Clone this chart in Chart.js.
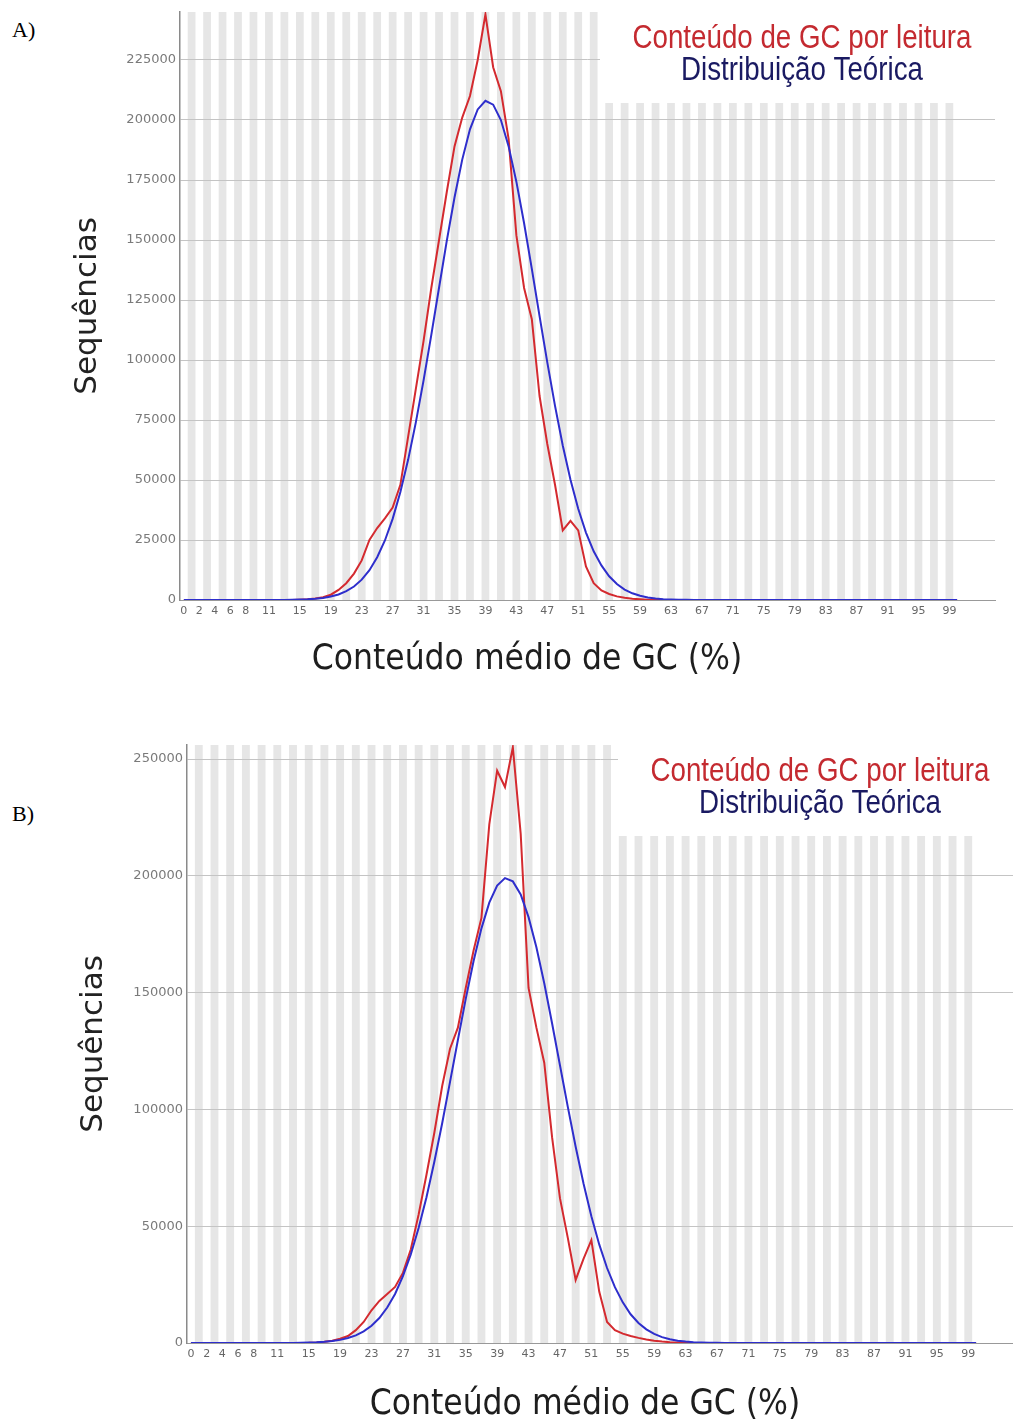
<!DOCTYPE html>
<html>
<head>
<meta charset="utf-8">
<script src="https://cdn.jsdelivr.net/npm/chart.js@4/dist/chart.umd.min.js"></script>
<style>
  body { margin: 0; background: #fff; }
  #page { position: relative; width: 1013px; height: 1422px; overflow: hidden; }
  canvas { position: absolute; left: 0; }
  .tag { position: absolute; left: 12px; font: 22px "Liberation Serif", serif; color: #000; }
</style>
</head>
<body>
<div id="page">
  <div class="tag" style="top:17px">A)</div>
  <canvas id="chartA" width="1013" height="700" style="top:0"></canvas>
  <div class="tag" style="top:801px">B)</div>
  <canvas id="chartB" width="1013" height="722" style="top:700px"></canvas>
</div>
<script>
// Conteúdo de GC (%) - dois gráficos de distribuição

const gcPercent = [0,1,2,3,4,5,6,7,8,9,10,11,12,13,14,15,16,17,18,19,20,21,22,23,24,25,26,27,28,29,30,31,32,33,34,35,36,37,38,39,40,41,42,43,44,45,46,47,48,49,50,51,52,53,54,55,56,57,58,59,60,61,62,63,64,65,66,67,68,69,70,71,72,73,74,75,76,77,78,79,80,81,82,83,84,85,86,87,88,89,90,91,92,93,94,95,96,97,98,99,100];
const xTickLabels = [0,2,4,6,8,11,15,19,23,27,31,35,39,43,47,51,55,59,63,67,71,75,79,83,87,91,95,99];

// A) leituras e distribuição teórica
const readA = [0,0,0,0,0,0,0,0,0,0,0,0,0,20,50,150,300,600,1200,2200,4200,7000,11000,16500,25000,30000,34000,38500,48000,68000,88000,108000,130000,150000,170000,189000,201000,210000,225000,244000,222000,212000,192000,152000,130000,117000,85000,65000,48000,29000,33000,29000,14000,7000,4000,2500,1500,900,500,300,150,80,40,20,0,0,0,0,0,0,0,0,0,0,0,0,0,0,0,0,0,0,0,0,0,0,0,0,0,0,0,0,0,0,0,0,0,0,0,0,0];
const theoA = [0,0,0,0,0,0,0,0,0,0,0,0,0,50,90,160,290,510,860,1430,2300,3660,5620,8470,12400,17800,24800,33800,45000,58400,74000,91500,110500,130100,149600,167700,183500,196100,204400,208000,206400,200000,189000,174300,157000,138000,118300,99000,80900,64400,50100,38000,28100,20300,14400,9900,6640,4350,2790,1740,1060,630,360,208,110,60,30,0,0,0,0,0,0,0,0,0,0,0,0,0,0,0,0,0,0,0,0,0,0,0,0,0,0,0,0,0,0,0,0,0,0];
const yTicksA = [0,25000,50000,75000,100000,125000,150000,175000,200000,225000];

// B) leituras e distribuição teórica
const readB = [0,0,0,0,0,0,0,0,0,0,0,0,0,0,50,100,250,500,1000,1800,3000,5500,9000,14000,18000,21000,24000,30000,40000,55000,72000,90000,110000,126000,135000,152000,168000,182000,222000,245000,238000,255000,218000,152000,135000,120000,88000,62000,45000,27000,36000,44000,22000,9000,5500,4000,3000,2200,1500,1000,600,350,200,100,50,0,0,0,0,0,0,0,0,0,0,0,0,0,0,0,0,0,0,0,0,0,0,0,0,0,0,0,0,0,0,0,0,0,0,0,0];
const theoB = [0,0,0,0,0,0,0,0,0,0,0,0,0,50,96,170,290,500,820,1340,2120,3280,4970,7380,10700,15200,21000,28600,37900,49200,62400,77600,94100,111800,129700,147300,163500,177500,188500,195800,199000,197600,192000,182300,169400,154000,136800,118900,101100,84000,68300,54300,42200,32100,23900,17400,12300,8600,5850,3890,2530,1610,1000,610,360,210,120,70,0,0,0,0,0,0,0,0,0,0,0,0,0,0,0,0,0,0,0,0,0,0,0,0,0,0,0,0,0,0,0,0,0];
const yTicksB = [0,50000,100000,150000,200000,250000];

const seriesLabels = ["Conteúdo de GC por leitura", "Distribuição Teórica"];
const xTitle = "Conteúdo médio de GC (%)";

// faixas cinzentas alternadas por categoria
const stripes = {
  id: "stripes",
  beforeDraw(chart, args, opts) {
    const { ctx, chartArea, scales: { x } } = chart;
    ctx.save();
    ctx.fillStyle = opts.color;
    gcPercent.forEach(g => {
      if (g % 2 === 1) {
        const x0 = x.getPixelForValue(g - 0.5);
        const x1 = x.getPixelForValue(g + 0.5);
        ctx.fillRect(x0, chartArea.top, x1 - x0, chartArea.bottom - chartArea.top);
      }
    });
    ctx.restore();
  }
};

// texto estreito (a fonte original é condensada)
function narrowText(ctx, text, x, y, squeeze) {
  ctx.save();
  ctx.translate(x, y);
  ctx.scale(squeeze, 1);
  ctx.fillText(text, 0, 0);
  ctx.restore();
}

// caixa de legenda branca no canto superior direito
const legendBox = {
  id: "legendBox",
  beforeDatasetsDraw(chart, args, opts) {
    const { ctx, chartArea: { top, right } } = chart;
    ctx.save();
    ctx.fillStyle = "#fff";
    ctx.fillRect(right - opts.width, 0, opts.width + 30, top + opts.height);
    ctx.font = opts.font;
    ctx.textAlign = "center";
    ctx.textBaseline = "middle";
    chart.data.datasets.forEach((ds, i) => {
      ctx.fillStyle = opts.colors[i];
      narrowText(ctx, ds.label, right - opts.cx, top + opts.rows[i], opts.squeeze);
    });
    ctx.restore();
  }
};

// título do eixo x, centrado como no original
const xAxisTitle = {
  id: "xAxisTitle",
  afterDraw(chart, args, opts) {
    const { ctx, chartArea: { bottom } } = chart;
    ctx.save();
    ctx.font = opts.font;
    ctx.fillStyle = opts.color;
    ctx.textAlign = "center";
    ctx.textBaseline = "middle";
    narrowText(ctx, opts.text, opts.cx, bottom + opts.dy, opts.squeeze);
    ctx.restore();
  }
};

function makeChart(id, read, theo, yTicks, o) {
  return new Chart(document.getElementById(id), {
    type: "line",
    data: {
      datasets: [
        {
          label: seriesLabels[0],
          data: gcPercent.map((g, i) => ({ x: g, y: read[i] })),
          borderColor: "#d42a2f",
          borderWidth: 2,
          pointRadius: 0,
          tension: 0,
          order: 2
        },
        {
          label: seriesLabels[1],
          data: gcPercent.map((g, i) => ({ x: g, y: theo[i] })),
          borderColor: "#2e2ecc",
          borderWidth: 2,
          pointRadius: 0,
          tension: 0,
          order: 1
        }
      ]
    },
    options: {
      responsive: false,
      animation: false,
      layout: { padding: o.padding },
      plugins: {
        legend: { display: false },
        tooltip: { enabled: false },
        stripes: { color: "#e6e6e6" },
        legendBox: {
          width: 395, height: 91, cx: 193, rows: [27, 59], squeeze: 0.84,
          font: "33px 'Liberation Sans', sans-serif",
          colors: ["#c42a30", "#1a1a62"]
        },
        xAxisTitle: {
          text: xTitle, cx: o.xTitleX, dy: o.xTitleDy, squeeze: 0.9,
          font: "35px 'DejaVu Sans', sans-serif", color: "#1e1e1e"
        }
      },
      scales: {
        x: {
          type: "linear",
          min: -0.5,
          max: o.xMax,
          grid: { display: false, drawTicks: false },
          border: { display: true, color: "#999" },
          afterBuildTicks: s => { s.ticks = xTickLabels.map(v => ({ value: v })); },
          afterFit: s => { s.height = o.xHeight; },
          ticks: {
            autoSkip: false, maxRotation: 0, padding: 5, color: "#666",
            font: { family: "DejaVu Sans", size: 11 },
            callback: v => String(v)
          },
          title: { display: false }
        },
        y: {
          min: 0,
          max: o.yMax,
          afterBuildTicks: s => { s.ticks = yTicks.map(v => ({ value: v })); },
          afterFit: s => { s.width = o.yWidth; },
          grid: { color: "#c4c4c4", drawTicks: false },
          border: { color: "#8a8a8a", width: 1.5 },
          ticks: {
            padding: 4, color: "#7a7a7a",
            font: { family: "DejaVu Sans", size: 13 },
            callback: v => String(v)
          },
          title: {
            display: true, text: "Sequências", color: "#222",
            font: { family: "DejaVu Sans", size: 31 },
            padding: 0
          }
        }
      }
    },
    plugins: [stripes, legendBox, xAxisTitle]
  });
}

makeChart("chartA", readA, theoA, yTicksA, {
  padding: { left: 69, top: 12, right: 18, bottom: 0 },
  yWidth: 111, xHeight: 100, xMax: 104.9, yMax: 245000,
  xTitleX: 527, xTitleDy: 60
});

makeChart("chartB", readB, theoB, yTicksB, {
  padding: { left: 75, top: 45, right: 0, bottom: 0 },
  yWidth: 112, xHeight: 79, xMax: 104.7, yMax: 256000,
  xTitleX: 585, xTitleDy: 62
});
</script>
</body>
</html>
